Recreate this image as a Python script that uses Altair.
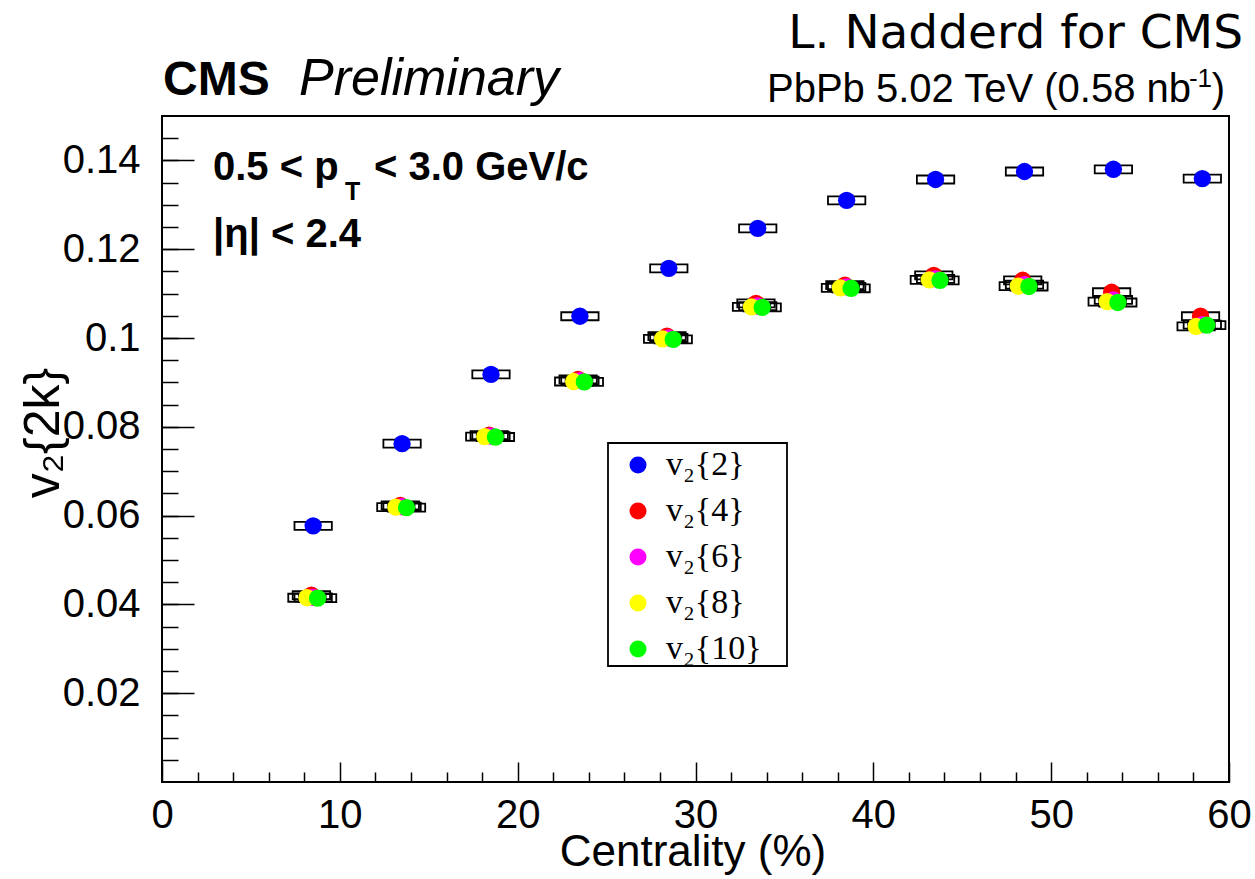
import altair as alt
import pandas as pd

# ---------------- data ----------------
centrality = [8.5, 13.5, 18.5, 23.5, 28.5, 33.5, 38.5, 43.5, 48.5, 53.5, 58.5]
series_names = ["v₂{2}", "v₂{4}", "v₂{6}", "v₂{8}", "v₂{10}"]
series_colors = ["#0000ff", "#ff0000", "#ff00ff", "#ffff00", "#00ff00"]
x_shift = [0.0, -0.1, 0.0, -0.35, 0.25]

v2_2 = [0.0577, 0.0762, 0.0918, 0.1049, 0.1157, 0.1247, 0.1310, 0.1357, 0.1375, 0.1380, 0.1359]
v2_4 = [0.0421, 0.0623, 0.0781, 0.0907, 0.1004, 0.1078, 0.1119, 0.1141, 0.1130, 0.1103, 0.1049]
v2_6 = [0.0416, 0.0620, 0.0779, 0.0904, 0.1000, 0.1072, 0.1115, 0.1133, 0.1120, 0.1086, 0.1030]
v2_8 = [0.0415, 0.0619, 0.0778, 0.0902, 0.0998, 0.1070, 0.1113, 0.1131, 0.1117, 0.1082, 0.1026]
v2_10 = [0.0414, 0.0618, 0.0777, 0.0901, 0.0997, 0.1069, 0.1112, 0.1130, 0.1116, 0.1080, 0.1029]
all_values = [v2_2, v2_4, v2_6, v2_8, v2_10]

sys_x = 1.05      # half width of systematic boxes (centrality units)
sys_y = 0.0009    # half height of systematic boxes

x_major = [0, 10, 20, 30, 40, 50, 60]
x_minor = [2, 4, 6, 8, 12, 14, 16, 18, 22, 24, 26, 28, 32, 34, 36, 38,
           42, 44, 46, 48, 52, 54, 56, 58]
y_major = [0.02, 0.04, 0.06, 0.08, 0.10, 0.12, 0.14]
y_minor = [round(0.005 * i, 3) for i in range(1, 30)]

rows = []
for name, shift, vals in zip(series_names, x_shift, all_values):
    for c, v in zip(centrality, vals):
        xc = c + shift
        rows.append({"series": name, "x": xc, "v": v,
                     "xlo": xc - sys_x, "xhi": xc + sys_x,
                     "ylo": v - sys_y, "yhi": v + sys_y})
df = pd.DataFrame(rows)

FONT = "Liberation Sans"
W, H = 1067, 666

xscale = alt.Scale(domain=[0, 60], nice=False, zero=False)
yscale = alt.Scale(domain=[0, 0.15], nice=False, zero=False)

x_major_axis = alt.Axis(values=x_major, format="d", orient="bottom", offset=-20,
                        tickSize=20, tickWidth=1.5, tickColor="black", domain=False,
                        grid=False, labelFont=FONT, labelFontSize=40, labelColor="black",
                        labelPadding=13, labelFlush=False, labelOverlap=False, title=None)
y_major_axis = alt.Axis(values=y_major, format=".2~f", orient="left", offset=-32,
                        tickSize=32, tickWidth=1.5, tickColor="black", domain=False,
                        grid=False, labelFont=FONT, labelFontSize=40, labelColor="black",
                        labelPadding=22, labelOverlap=False, title=None)
x_minor_axis = alt.Axis(values=x_minor, orient="bottom", offset=-10, tickSize=10,
                        tickWidth=1.5, tickColor="black", domain=False, grid=False,
                        labels=False, title=None)
y_minor_axis = alt.Axis(values=y_minor, orient="left", offset=-16, tickSize=16,
                        tickWidth=1.5, tickColor="black", domain=False, grid=False,
                        labels=False, title=None)

boxes = alt.Chart(df).mark_rect(fillOpacity=0, stroke="black", strokeWidth=1.8).encode(
    x=alt.X("xlo:Q", scale=xscale, axis=x_minor_axis),
    x2="xhi:Q",
    y=alt.Y("ylo:Q", scale=yscale, axis=y_minor_axis),
    y2="yhi:Q",
)

points = alt.Chart(df).mark_circle(size=300, opacity=1).encode(
    x=alt.X("x:Q", scale=xscale, axis=x_major_axis),
    y=alt.Y("v:Q", scale=yscale, axis=y_major_axis),
    color=alt.Color("series:N",
                    scale=alt.Scale(domain=series_names, range=series_colors),
                    legend=alt.Legend(orient="none", legendX=459, legendY=332, title=None,
                                      labelFont="Liberation Serif", labelFontSize=34,
                                      labelColor="black", symbolSize=290, symbolType="circle",
                                      symbolStrokeWidth=0, rowPadding=12, labelOffset=11,
                                      padding=0, labelLimit=400)),
)

legend_frame = alt.Chart(pd.DataFrame({"k": [0]})).mark_rect(
    fill="white", stroke="black", strokeWidth=1.8).encode(
    x=alt.value(446), x2=alt.value(625), y=alt.value(327), y2=alt.value(550))


def label(text, x, y, size, weight="normal", style="normal", font=FONT,
          align="left", angle=0):
    return alt.Chart(pd.DataFrame({"t": [text]})).mark_text(
        align=align, baseline="alphabetic", fontSize=size, fontWeight=weight,
        fontStyle=style, font=font, angle=angle, color="black").encode(
        x=alt.value(x), y=alt.value(y), text="t:N")


texts = [
    label("L. Nadderd for CMS", 1081, -68, 47, font="DejaVu Sans", align="right"),
    label("CMS", 1, -21, 48, weight="bold"),
    label("Preliminary", 137, -21, 52, style="italic"),
    label(")", 1063, -14, 40, align="right"),
    label("-1", 1050, -29, 26, align="right"),
    label("PbPb 5.02 TeV (0.58 nb", 1029, -14, 40, align="right"),
    label("0.5 < p", 51, 64, 40, weight="bold"),
    label("T", 183, 84, 25, weight="bold"),
    label("< 3.0 GeV/c", 212, 64, 40, weight="bold"),
    label("|η| < 2.4", 51, 131, 40, weight="bold"),
    label("Centrality (%)", 531, 750, 44, align="center"),
    label("v₂{2k}", -103, 317, 50, align="center", angle=270),
]

chart = alt.layer(legend_frame, boxes, points, *texts).resolve_axis(
    x="independent", y="independent"
).properties(
    width=W, height=H,
    autosize=alt.AutoSizeParams(type="none"),
    padding={"left": 162, "top": 116, "right": 26, "bottom": 97},
    background="white",
).configure_view(stroke="black", strokeWidth=2)

chart.save("out.html", embed_options={"renderer": "svg", "actions": False})
